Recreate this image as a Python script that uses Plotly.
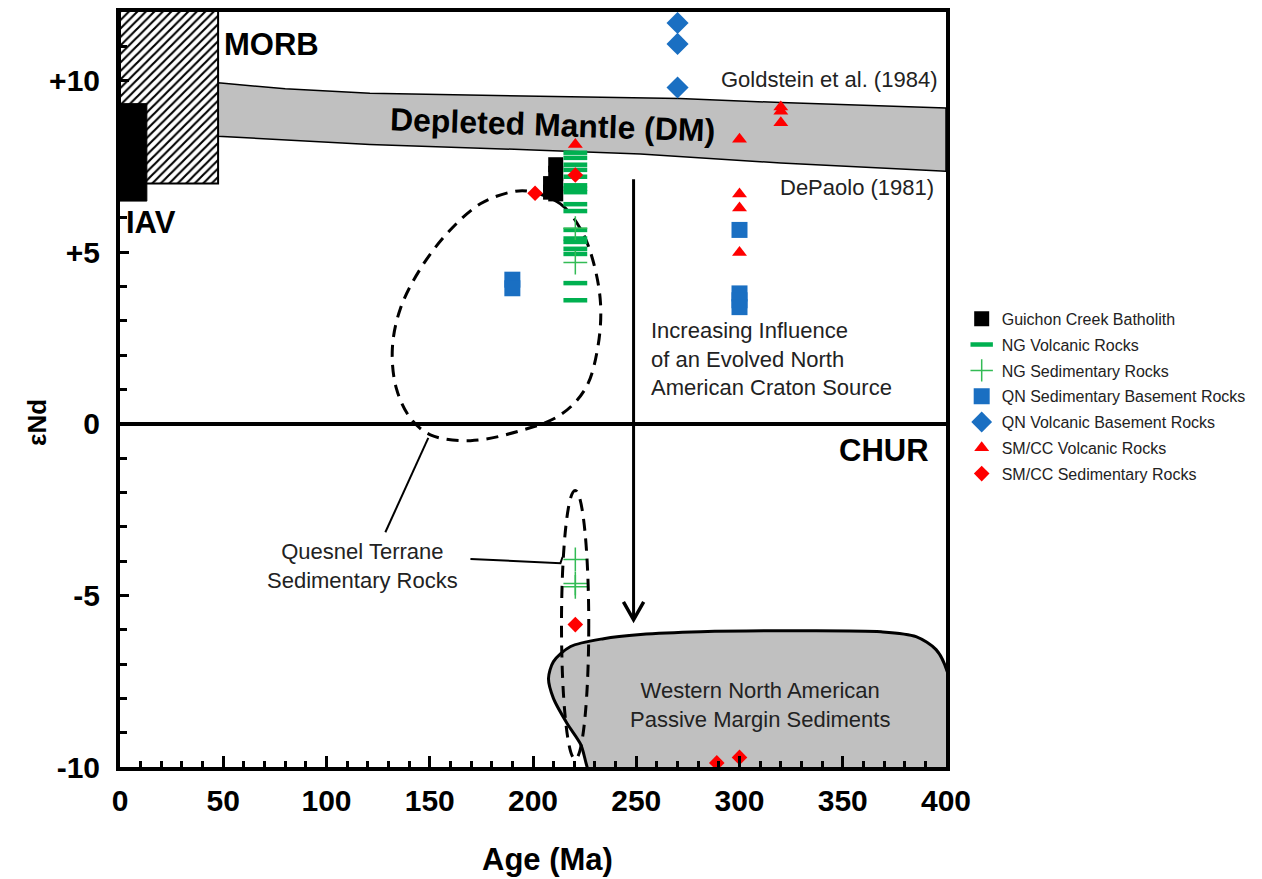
import plotly.graph_objects as go

# ---- sample data: age (Ma) vs epsilon Nd ----
guichon_age = [211, 211, 208.5, 211, 208.5, 211]
guichon_end = [7.55, 7.3, 7.0, 6.95, 6.75, 6.7]

ng_volc_age = [220.5] * 17
ng_volc_end = [7.9, 7.75, 7.55, 7.4, 7.2, 6.95, 6.85, 6.75, 6.4, 6.2,
               5.65, 5.4, 5.3, 5.1, 4.95, 4.1, 3.6]

ng_sed_age = [220.5, 220.5, 220.5, 220.5, 220.5]
ng_sed_end = [5.7, 4.7, -3.95, -4.65, -4.75]

qn_sed_age = [190, 190, 300, 300, 300, 300]
qn_sed_end = [4.2, 3.95, 5.65, 3.8, 3.6, 3.4]

qn_volc_age = [270, 270, 270]
qn_volc_end = [11.68, 11.07, 9.8]

smcc_volc_age = [220.5, 300, 300, 300, 300, 320, 320, 320]
smcc_volc_end = [8.14, 8.29, 6.7, 6.29, 4.99, 9.23, 9.11, 8.77]

smcc_sed_age = [201, 220.5, 220.5, 289, 300]
smcc_sed_end = [6.72, 7.25, -5.85, -9.88, -9.72]

# ---- reference fields ----
morb_age = [0, 47.5, 47.5, 0, 0]
morb_end = [12.2, 12.2, 7.0, 7.0, 12.2]

iav_age = [0, 13, 13, 0, 0]
iav_end = [9.33, 9.33, 6.49, 6.49, 9.33]

dm_top_age = [47.5, 80, 121, 200, 271, 320, 400]
dm_top_end = [9.94, 9.76, 9.63, 9.55, 9.48, 9.36, 9.2]
dm_bot_age = [47.5, 121, 200, 252, 320, 400]
dm_bot_end = [8.38, 8.14, 7.98, 7.86, 7.6, 7.36]

quesnel_age = [197.8, 213.3, 223.0, 228.8, 232.7, 231.3, 225.5, 213.3, 193.9,
               169.7, 150.3, 140.6, 133.8, 131.9, 135.8, 145.5, 159.0, 174.5,
               189.1, 197.8]
quesnel_end = [6.78, 6.41, 5.68, 4.81, 3.51, 2.20, 1.04, 0.26, -0.20,
               -0.49, -0.32, 0.17, 1.04, 2.20, 3.36, 4.52, 5.59, 6.41,
               6.75, 6.78]

margin_age = [232, 223.0, 216.7, 209.9, 207.5, 209.9, 218.2, 234.2, 252.1,
              281.2, 329.7, 368.5, 385.5, 395.2, 400.5, 404, 404, 232]
margin_end = [-10.6, -9.33, -8.75, -8.0, -7.42, -6.93, -6.49, -6.26, -6.14,
              -6.06, -6.03, -6.06, -6.2, -6.58, -7.2, -8.5, -10.6, -10.6]

x_ticks = [0, 50, 100, 150, 200, 250, 300, 350, 400]
y_ticks = [-10, -5, 0, 5, 10]
y_tick_text = ["-10", "-5", "0", "+5", "+10"]

FONT = "Liberation Sans, Arial, sans-serif"
GREEN = "#00b050"
PLUS_GREEN = "#33bb55"
BLUE = "#1a6fc2"
RED = "#ff0000"
GRAY = "#c0c0c0"

fig = go.Figure()

# depleted mantle band
fig.add_trace(go.Scatter(
    x=dm_top_age + dm_bot_age[::-1] + [dm_top_age[0]],
    y=dm_top_end + dm_bot_end[::-1] + [dm_top_end[0]],
    mode="lines", fill="toself", fillcolor=GRAY,
    line=dict(color="black", width=1.5), showlegend=False, hoverinfo="skip"))

# MORB field (hatched)
fig.add_trace(go.Scatter(
    x=morb_age, y=morb_end, mode="lines", fill="toself",
    fillpattern=dict(shape="/", size=6, solidity=0.35, fgcolor="black",
                     bgcolor="white", fillmode="replace"),
    line=dict(color="black", width=2), showlegend=False, hoverinfo="skip"))

# IAV field
fig.add_trace(go.Scatter(
    x=iav_age, y=iav_end, mode="lines", fill="toself", fillcolor="black",
    line=dict(color="black", width=1), showlegend=False, hoverinfo="skip"))

# passive margin sediments field
fig.add_trace(go.Scatter(
    x=margin_age, y=margin_end, mode="lines", fill="toself", fillcolor=GRAY,
    line=dict(color="black", width=3, shape="spline", smoothing=0.8),
    showlegend=False, hoverinfo="skip"))

# Quesnel terrane sedimentary rocks field
fig.add_trace(go.Scatter(
    x=quesnel_age, y=quesnel_end, mode="lines",
    line=dict(color="black", width=3, dash="12px,8px", shape="spline", smoothing=1.0),
    showlegend=False, hoverinfo="skip"))

# sample series
series = [
    ("Guichon Creek Batholith", guichon_age, guichon_end,
     dict(symbol="square", size=15, color="black")),
    ("NG Volcanic Rocks", ng_volc_age, ng_volc_end,
     dict(symbol="line-ew", size=17, color=GREEN, line=dict(color=GREEN, width=4.5))),
    ("NG Sedimentary Rocks", ng_sed_age, ng_sed_end,
     dict(symbol="cross-thin", size=17, color=PLUS_GREEN,
          line=dict(color=PLUS_GREEN, width=1.5))),
    ("QN Sedimentary Basement Rocks", qn_sed_age, qn_sed_end,
     dict(symbol="square", size=16, color=BLUE)),
    ("QN Volcanic Basement Rocks", qn_volc_age, qn_volc_end,
     dict(symbol="diamond", size=17, color=BLUE)),
    ("SM/CC Volcanic Rocks", smcc_volc_age, smcc_volc_end,
     dict(symbol="triangle-up", size=13, color=RED)),
    ("SM/CC Sedimentary Rocks", smcc_sed_age, smcc_sed_end,
     dict(symbol="diamond", size=12, color=RED)),
]
for name, xs, ys, marker in series:
    fig.add_trace(go.Scatter(x=xs, y=ys, mode="markers", name=name,
                             legendgroup=name, marker=marker))

shapes = [
    # lower Quesnel field
    dict(type="circle", xref="x", yref="y", x0=213.8, x1=227.0, y0=-9.77, y1=-1.94,
         line=dict(color="black", width=3, dash="12px,8px")),
    # leader lines
    dict(type="line", xref="x", yref="y", x0=128.5, y0=-3.16, x1=149.3, y1=-0.41,
         line=dict(color="black", width=2)),
    dict(type="path", xref="x", yref="y",
         path="M 169.7,-3.94 L 213.3,-4.06 L 214.3,-3.88",
         line=dict(color="black", width=2)),
    # craton influence arrow
    dict(type="line", xref="x", yref="y", x0=248.7, y0=7.13, x1=248.7, y1=-5.71,
         line=dict(color="black", width=3)),
    dict(type="path", xref="x", yref="y",
         path="M 243.8,-5.19 L 248.7,-5.71 L 253.6,-5.19",
         line=dict(color="black", width=3.5)),
]


def label(x, y, text, size, bold=False, xanchor="center", angle=0, color="black",
          align="center"):
    return dict(x=x, y=y, xref="x", yref="y", text=text, showarrow=False,
                xanchor=xanchor, yanchor="middle", textangle=angle, align=align,
                font=dict(family=FONT, size=size, color=color,
                          weight="bold" if bold else "normal"))


annotations = [
    label(49.5, 11.04, "MORB", 31, bold=True, xanchor="left"),
    label(2, 5.88, "IAV", 31, bold=True, xanchor="left"),
    label(392.7, -0.78, "CHUR", 31, bold=True, xanchor="right"),
    label(209.5, 8.72, "Depleted Mantle (DM)", 32, bold=True, angle=2),
    label(396.6, 10.03, "Goldstein et al. (1984)", 22, xanchor="right", color="#222"),
    label(395.2, 6.9, "DePaolo (1981)", 22, xanchor="right", color="#222"),
    label(256, 1.88, "Increasing Influence<br>of an Evolved North<br>American Craton Source",
          22, xanchor="left", color="#222", align="left"),
    label(117.3, -4.13, "Quesnel Terrane<br>Sedimentary Rocks", 22, color="#222"),
    label(309.8, -8.19, "Western North American<br>Passive Margin Sediments", 22, color="#222"),
    dict(x=-0.1005, y=0.457, xref="paper", yref="paper", text="εNd", showarrow=False,
         textangle=-90, xanchor="center", yanchor="middle",
         font=dict(family=FONT, size=26, color="black", weight="bold")),
    dict(x=0.517, y=-0.1225, xref="paper", yref="paper", text="Age (Ma)", showarrow=False,
         xanchor="center", yanchor="middle",
         font=dict(family=FONT, size=31, color="black", weight="bold")),
]

fig.update_layout(
    width=1262, height=879,
    margin=dict(l=120, r=316, t=8, b=112),
    paper_bgcolor="white", plot_bgcolor="white",
    shapes=shapes, annotations=annotations,
    showlegend=True,
    legend=dict(x=1.019, y=0.616, xanchor="left", yanchor="top",
                font=dict(family=FONT, size=16, color="#222"),
                bgcolor="rgba(0,0,0,0)", itemsizing="trace", tracegroupgap=2),
    xaxis=dict(range=[0, 400], tickvals=x_ticks, showgrid=False, zeroline=False,
               showline=True, linecolor="black", linewidth=4, mirror=True,
               ticks="inside", ticklen=11, tickwidth=3, tickcolor="black",
               minor=dict(dtick=10, ticks="inside", ticklen=6, tickwidth=2.5,
                          tickcolor="black"),
               tickfont=dict(family=FONT, size=30, color="black", weight="bold"),
               ticklabelstandoff=4),
    yaxis=dict(range=[-10, 12], tickvals=y_ticks, ticktext=y_tick_text,
               showgrid=False, zeroline=True, zerolinecolor="black", zerolinewidth=4,
               showline=True, linecolor="black", linewidth=4, mirror=True,
               ticks="inside", ticklen=9, tickwidth=3, tickcolor="black",
               minor=dict(dtick=1, ticks="inside", ticklen=7, tickwidth=2.5,
                          tickcolor="black"),
               tickfont=dict(family=FONT, size=30, color="black", weight="bold"),
               ticklabelstandoff=10),
)

fig.write_html("out.html")
